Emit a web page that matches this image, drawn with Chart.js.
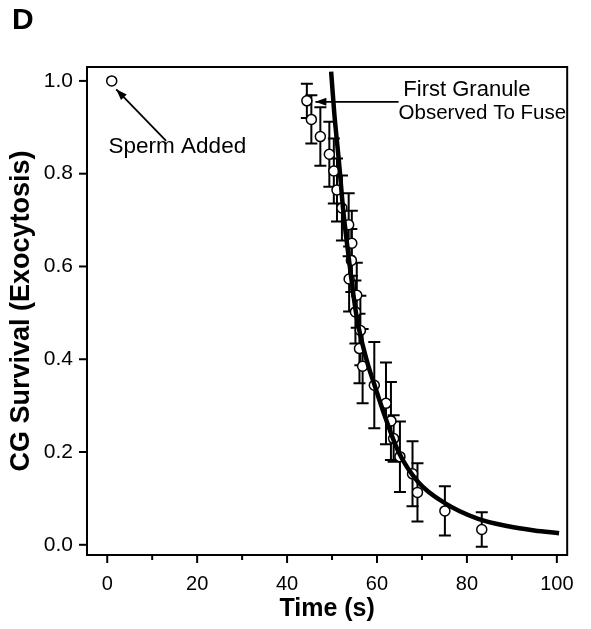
<!DOCTYPE html>
<html><head><meta charset="utf-8">
<script src="https://cdn.jsdelivr.net/npm/chart.js@4.4.1/dist/chart.umd.min.js"></script>
<style>
html,body{margin:0;padding:0;background:#fff;}
#wrap{position:relative;width:591px;height:629px;}
canvas{display:block;}
#panel{position:absolute;left:12px;top:2px;font:bold 30px "Liberation Sans",Arial,sans-serif;color:#000;}
</style>
</head><body>
<div id="wrap"><canvas id="c" width="591" height="629"></canvas><div id="panel">D</div></div>
<script>
// Measured data (time in s, CG survival fraction, error)
const timeS       = [1, 44.4, 45.4, 47.4, 49.4, 50.4, 51.1, 52.2, 53.7, 54.4, 54.3, 53.8, 55.5, 55.2, 56.3, 56.1, 56.8, 59.4, 62.0, 63.1, 63.7, 65.1, 67.9, 69.0, 75.1, 83.3];
const survival    = [1.0, 0.957, 0.917, 0.880, 0.842, 0.806, 0.765, 0.726, 0.690, 0.650, 0.613, 0.573, 0.538, 0.502, 0.462, 0.423, 0.385, 0.344, 0.305, 0.267, 0.229, 0.190, 0.153, 0.113, 0.073, 0.033];
const survivalErr = [0, 0.037, 0.052, 0.063, 0.070, 0.070, 0.068, 0.070, 0.068, 0.070, 0.068, 0.070, 0.070, 0.068, 0.075, 0.075, 0.080, 0.093, 0.088, 0.084, 0.050, 0.076, 0.070, 0.063, 0.053, 0.037];
// Fitted curve
const fitTime     = [49.8, 50.5, 51.5, 52.5, 53.7, 55.5, 57.7, 59.6, 61.8, 64.8, 69.2, 75.1, 82.5, 89.2, 95.0, 100.5];
const fitSurvival = [1.02, 0.93, 0.83, 0.72, 0.62, 0.49, 0.398, 0.34, 0.276, 0.20, 0.135, 0.09, 0.056, 0.04, 0.031, 0.025];
// Axis ticks
const xTickValues = [0, 10, 20, 30, 40, 50, 60, 70, 80, 90, 100];
const xTickLabels = ['0', '', '20', '', '40', '', '60', '', '80', '', '100'];
const yTickValues = [0, 0.2, 0.4, 0.6, 0.8, 1.0];
const yTickLabels = ['0.0', '0.2', '0.4', '0.6', '0.8', '1.0'];

const FONT = '"Liberation Sans", Arial, sans-serif';

const decor = {
  id: 'decor',
  beforeDatasetsDraw(chart) {
    const {ctx, scales: {x, y}} = chart;
    ctx.save();
    ctx.strokeStyle = '#000';
    ctx.lineWidth = 2;
    for (let i = 0; i < timeS.length; i++) {
      const e = survivalErr[i];
      if (!e) continue;
      const px = x.getPixelForValue(timeS[i]);
      const pt = y.getPixelForValue(survival[i] + e);
      const pb = y.getPixelForValue(survival[i] - e);
      ctx.beginPath();
      ctx.moveTo(px, pt); ctx.lineTo(px, pb);
      ctx.moveTo(px - 6, pt); ctx.lineTo(px + 6, pt);
      ctx.moveTo(px - 6, pb); ctx.lineTo(px + 6, pb);
      ctx.stroke();
    }
    ctx.restore();
  },
  afterDraw(chart) {
    const {ctx, chartArea: a, scales: {x, y}} = chart;
    ctx.save();
    ctx.strokeStyle = '#000';
    ctx.fillStyle = '#000';
    ctx.lineWidth = 2;
    ctx.strokeRect(a.left, a.top, a.right - a.left, a.bottom - a.top);
    xTickValues.forEach((v, i) => {
      const px = x.getPixelForValue(v);
      const len = xTickLabels[i] ? 8 : 5;
      ctx.beginPath(); ctx.moveTo(px, a.bottom); ctx.lineTo(px, a.bottom + len); ctx.stroke();
    });
    yTickValues.forEach(v => {
      const py = y.getPixelForValue(v);
      ctx.beginPath(); ctx.moveTo(a.left, py); ctx.lineTo(a.left - 8, py); ctx.stroke();
    });
    // annotations
    const arrow = (x0, y0, x1, y1) => {
      ctx.lineWidth = 1.8;
      ctx.beginPath(); ctx.moveTo(x0, y0); ctx.lineTo(x1, y1); ctx.stroke();
      const ang = Math.atan2(y1 - y0, x1 - x0);
      const L = 11, W = 4;
      ctx.beginPath();
      ctx.moveTo(x1, y1);
      ctx.lineTo(x1 - L * Math.cos(ang) + W * Math.sin(ang), y1 - L * Math.sin(ang) - W * Math.cos(ang));
      ctx.lineTo(x1 - L * Math.cos(ang) - W * Math.sin(ang), y1 - L * Math.sin(ang) + W * Math.cos(ang));
      ctx.closePath(); ctx.fill();
    };
    arrow(x.getPixelForValue(13.1), y.getPixelForValue(0.871), x.getPixelForValue(2.0), y.getPixelForValue(0.982));
    arrow(x.getPixelForValue(64.8), y.getPixelForValue(0.955), x.getPixelForValue(46.3), y.getPixelForValue(0.955));
    ctx.textBaseline = 'alphabetic';
    ctx.textAlign = 'left';
    ctx.font = '22.5px ' + FONT;
    ctx.fillText('Sperm Added', x.getPixelForValue(0.3), y.getPixelForValue(0.845));
    ctx.textAlign = 'center';
    ctx.font = '22px ' + FONT;
    ctx.fillText('First Granule', x.getPixelForValue(80.0), y.getPixelForValue(0.968));
    ctx.textAlign = 'left';
    ctx.font = '20.5px ' + FONT;
    ctx.fillText('Observed To Fuse', x.getPixelForValue(64.8), y.getPixelForValue(0.918));
    ctx.restore();
  }
};

new Chart(document.getElementById('c'), {
  type: 'scatter',
  data: {
    datasets: [
      {
        type: 'line',
        label: 'fit',
        data: fitTime.map((t, i) => ({x: t, y: fitSurvival[i]})),
        borderColor: '#000',
        borderWidth: 4.5,
        pointRadius: 0,
        cubicInterpolationMode: 'monotone',
        fill: false,
        order: 0
      },
      {
        label: 'CG survival',
        data: timeS.map((t, i) => ({x: t, y: survival[i]})),
        pointRadius: 5,
        pointBackgroundColor: '#fff',
        pointBorderColor: '#000',
        pointBorderWidth: 1.5,
        showLine: false,
        order: 1
      }
    ]
  },
  options: {
    responsive: false,
    animation: false,
    devicePixelRatio: 1,
    layout: {padding: {top: 67, right: 22, left: 0, bottom: 0}},
    plugins: {legend: {display: false}, tooltip: {enabled: false}},
    scales: {
      x: {
        type: 'linear', min: -4.5, max: 102.3,
        afterFit: s => { s.height = 74; },
        afterBuildTicks: s => { s.ticks = xTickValues.map(v => ({value: v})); },
        grid: {display: false, drawTicks: false},
        border: {display: false},
        ticks: {
          autoSkip: false, maxRotation: 0, padding: 17, color: '#000',
          font: {family: FONT, size: 20},
          callback: (v) => { const i = xTickValues.indexOf(v); return i >= 0 ? xTickLabels[i] : ''; }
        },
        title: {display: true, text: 'Time (s)', color: '#000', font: {family: FONT, size: 25, weight: 'bold'}, padding: {top: 0, bottom: 5}}
      },
      y: {
        type: 'linear', min: -0.022, max: 1.03,
        afterFit: s => { s.width = 87; },
        afterBuildTicks: s => { s.ticks = yTickValues.map(v => ({value: v})); },
        grid: {display: false, drawTicks: false},
        border: {display: false},
        ticks: {
          autoSkip: false, padding: 14, color: '#000',
          font: {family: FONT, size: 21},
          callback: (v) => { const i = yTickValues.findIndex(t => Math.abs(t - v) < 1e-9); return i >= 0 ? yTickLabels[i] : ''; }
        },
        title: {display: true, text: 'CG Survival (Exocytosis)', color: '#000', font: {family: FONT, size: 27, weight: 'bold'}, padding: {top: 5, bottom: 0}}
      }
    }
  },
  plugins: [decor]
});
</script>
</body></html>
